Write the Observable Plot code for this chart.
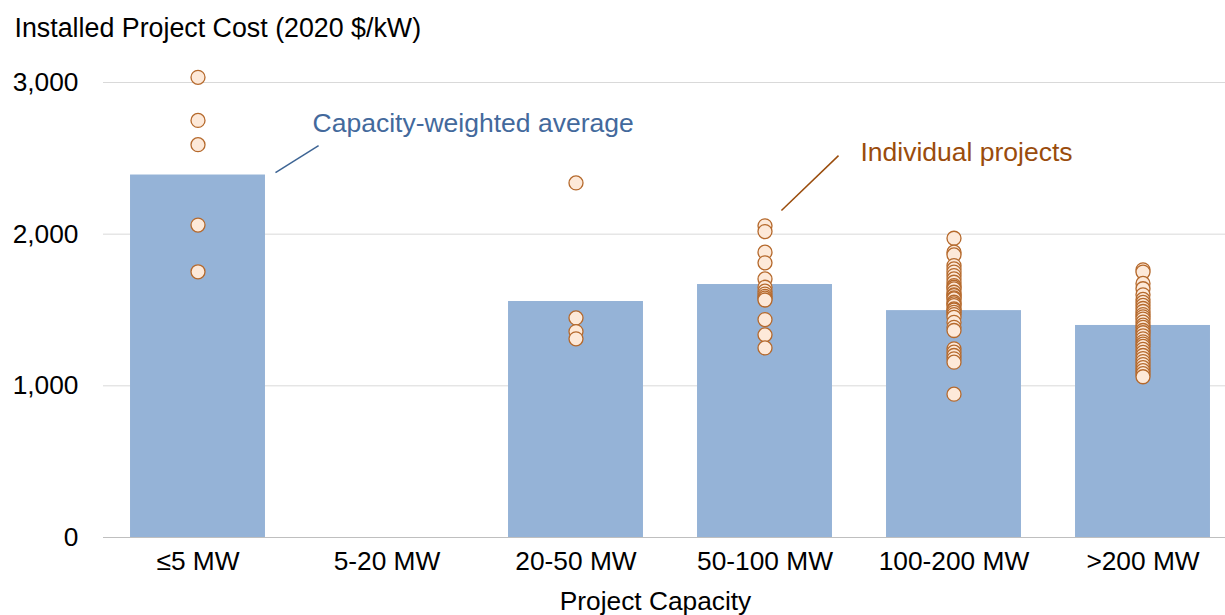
<!DOCTYPE html>
<html>
<head>
<meta charset="utf-8">
<script src="https://cdn.jsdelivr.net/npm/d3@7"></script>
<script src="https://cdn.jsdelivr.net/npm/@observablehq/plot@0.6"></script>
<style>
  html, body { margin: 0; padding: 0; background: #fff; }
</style>
</head>
<body>
<div id="chart"></div>
<script>
const categories = ["≤5 MW", "5-20 MW", "20-50 MW", "50-100 MW", "100-200 MW", ">200 MW"];
const averages = [2390, null, 1556, 1668, 1496, 1398];
const projectsLe5 = [3034, 2750, 2590, 2060, 1752];
const projects5to20 = [];
const projects20to50 = [2338, 1448, 1358, 1310];
const projects50to100 = [2055, 2017, 1881, 1811, 1705, 1650, 1624, 1605, 1590, 1578, 1566, 1437, 1336, 1250];
const projects100to200 = [1973, 1881, 1863, 1793, 1771, 1750, 1727, 1705, 1683, 1661, 1650, 1639, 1617, 1600, 1595, 1580, 1573, 1551, 1540, 1529, 1507, 1500, 1485, 1470, 1452, 1419, 1386, 1365, 1244, 1222, 1200, 1178, 1156, 945];
const projectsOver200 = [1765, 1750, 1675, 1640, 1600, 1570, 1550, 1530, 1510, 1490, 1470, 1455, 1440, 1420, 1400, 1385, 1365, 1350, 1330, 1310, 1290, 1275, 1260, 1240, 1220, 1200, 1180, 1160, 1140, 1120, 1100, 1080, 1060];
const yTicks = [0, 1000, 2000, 3000];
const yTitle = "Installed Project Cost (2020 $/kW)";
const xTitle = "Project Capacity";
const annotationLabels = [
  {x: 0.606, y: 2730, text: "Capacity-weighted average", color: "#43699c"},
  {x: 3.505, y: 2538, text: "Individual projects", color: "#9a4c0c"}
];
const annotationLines = [
  {x1: 0.41, y1: 2406, x2: 0.638, y2: 2584, color: "#3d6494"},
  {x1: 3.087, y1: 2156, x2: 3.389, y2: 2518, color: "#9a4c0c"}
];

const projectCosts = [projectsLe5, projects5to20, projects20to50, projects50to100, projects100to200, projectsOver200];
const bars = categories.map((c, i) => ({i, c, v: averages[i]})).filter(d => d.v != null);
const points = projectCosts.flatMap((arr, i) => arr.map(v => ({i, v})));

const chart = Plot.plot({
  width: 1225,
  height: 615,
  marginLeft: 103,
  marginRight: 0,
  marginTop: 82,
  marginBottom: 78,
  style: {fontFamily: "'Liberation Sans', Arial, sans-serif", fontSize: "26.3px", color: "#000", background: "#fff"},
  x: {domain: [-0.5, 5.5], range: [103, 1237], axis: null},
  y: {domain: [0, 3000], axis: null},
  marks: [
    Plot.ruleY(yTicks.filter(t => t > 0), {stroke: "#d9d9d9", strokeWidth: 1}),
    Plot.rectY(bars, {x1: d => d.i - 0.357, x2: d => d.i + 0.357, y: "v", fill: "#95b3d7"}),
    Plot.ruleY([0], {stroke: "#bfbfbf", strokeWidth: 1}),
    Plot.axisY({ticks: yTicks, tickSize: 0, tickPadding: 25, tickFormat: d3.format(","), label: null, fill: "#000", fontSize: 26.3}),
    Plot.axisX({ticks: d3.range(categories.length), tickSize: 0, tickPadding: 14, tickFormat: i => categories[i], label: null, fill: "#000", fontSize: 26.3}),
    Plot.dot(points, {x: "i", y: "v", r: 7, fill: "#fde9d9", stroke: "#b5692c", strokeWidth: 1.3}),
    Plot.link(annotationLines, {x1: "x1", y1: "y1", x2: "x2", y2: "y2", stroke: d => d.color, strokeWidth: 1.5}),
    Plot.text(annotationLabels, {x: "x", y: "y", text: "text", fill: d => d.color, textAnchor: "start", fontSize: 26.5}),
    Plot.text([yTitle], {text: d => d, frameAnchor: "top-left", dx: -89, dy: -46, textAnchor: "start", lineAnchor: "bottom", fontSize: 26.8, fill: "#000"}),
    Plot.text([xTitle], {text: d => d, frameAnchor: "bottom", dx: -9, dy: 54, lineAnchor: "top", fontSize: 26.3, fill: "#000"})
  ]
});
document.getElementById("chart").appendChild(chart);
</script>
</body>
</html>
